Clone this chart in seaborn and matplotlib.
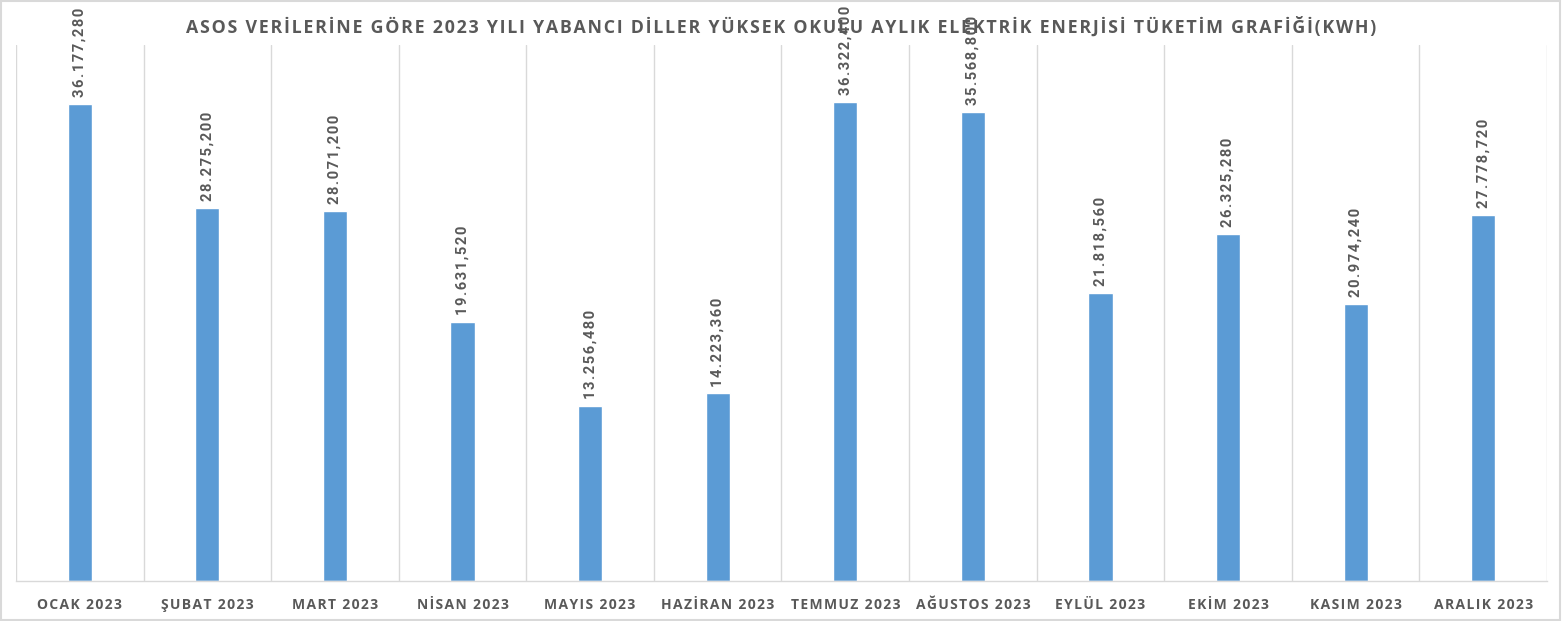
import matplotlib
matplotlib.use("Agg")
import matplotlib.pyplot as plt
import seaborn as sns
import pandas as pd
import numpy as np
from matplotlib.patches import Rectangle

months = ["OCAK 2023", "ŞUBAT 2023", "MART 2023", "NİSAN 2023", "MAYIS 2023", "HAZİRAN 2023",
          "TEMMUZ 2023", "AĞUSTOS 2023", "EYLÜL 2023", "EKİM 2023", "KASIM 2023", "ARALIK 2023"]
consumption = [36177.28, 28275.2, 28071.2, 19631.52, 13256.48, 14223.36,
               36322.4, 35568.8, 21818.56, 26325.28, 20974.24, 27778.72]
title = "ASOS VERİLERİNE GÖRE 2023 YILI YABANCI DİLLER YÜKSEK OKULU AYLIK ELEKTRİK ENERJİSİ TÜKETİM GRAFİĞİ(KWH)"

sns.set_theme(style="white")
plt.rcParams['font.family'] = ['Open Sans', 'DejaVu Sans']

HS = "\u200a"
def spaced(s):
    return HS.join(s)

df = pd.DataFrame({"month": months, "kwh": consumption})

fig = plt.figure(figsize=(15.62, 6.21), dpi=100)
ax = fig.add_axes([16/1562, 40/621, (1547-16)/1562, (581-45)/621])

sns.barplot(data=df, x="month", y="kwh", color="#5B9BD5", width=0.19, saturation=1, ax=ax)

ax.set_xlim(-0.5, 11.5)
ax.set_ylim(0, 40650)
ax.set_xlabel("")
ax.set_ylabel("")
ax.set_yticks([])
ax.set_xticks(range(12))
ax.set_xticklabels([spaced(m) for m in months])
ax.set_xticks(np.arange(-0.5, 12, 1), minor=True)
ax.grid(True, which="minor", axis="x", color="#D9D9D9", linewidth=1)
ax.grid(False, which="major")
ax.tick_params(axis="x", which="both", length=0, pad=12)
for lbl in ax.get_xticklabels():
    lbl.set_fontweight("bold")
    lbl.set_fontsize(10)
    lbl.set_color("#595959")
for s in ["top", "right", "left"]:
    ax.spines[s].set_visible(False)
ax.spines["bottom"].set_color("#D9D9D9")
ax.spines["bottom"].set_linewidth(1)

def fmt(v):
    s = f"{v:,.3f}"
    return s.replace(",", "X").replace(".", ",").replace("X", ".")

for i, v in enumerate(consumption):
    ax.annotate(spaced(fmt(v)), xy=(i, v), xytext=(0, 5), textcoords="offset points",
                rotation=90, ha="center", va="bottom", fontsize=10.6, fontweight="bold",
                color="#595959", family=["Roboto", "DejaVu Sans"],
                annotation_clip=False, zorder=1)

fig.text(781/1562, 1 - 27/621, spaced(title), ha="center", va="center", fontsize=12.8,
         fontweight="bold", color="#595959", zorder=5)

fig.patches.append(Rectangle((0.0008, 0.001), 0.998, 0.997, transform=fig.transFigure,
                             fill=False, edgecolor="#D9D9D9", linewidth=1.5))

fig.savefig("out.png", dpi=100)
